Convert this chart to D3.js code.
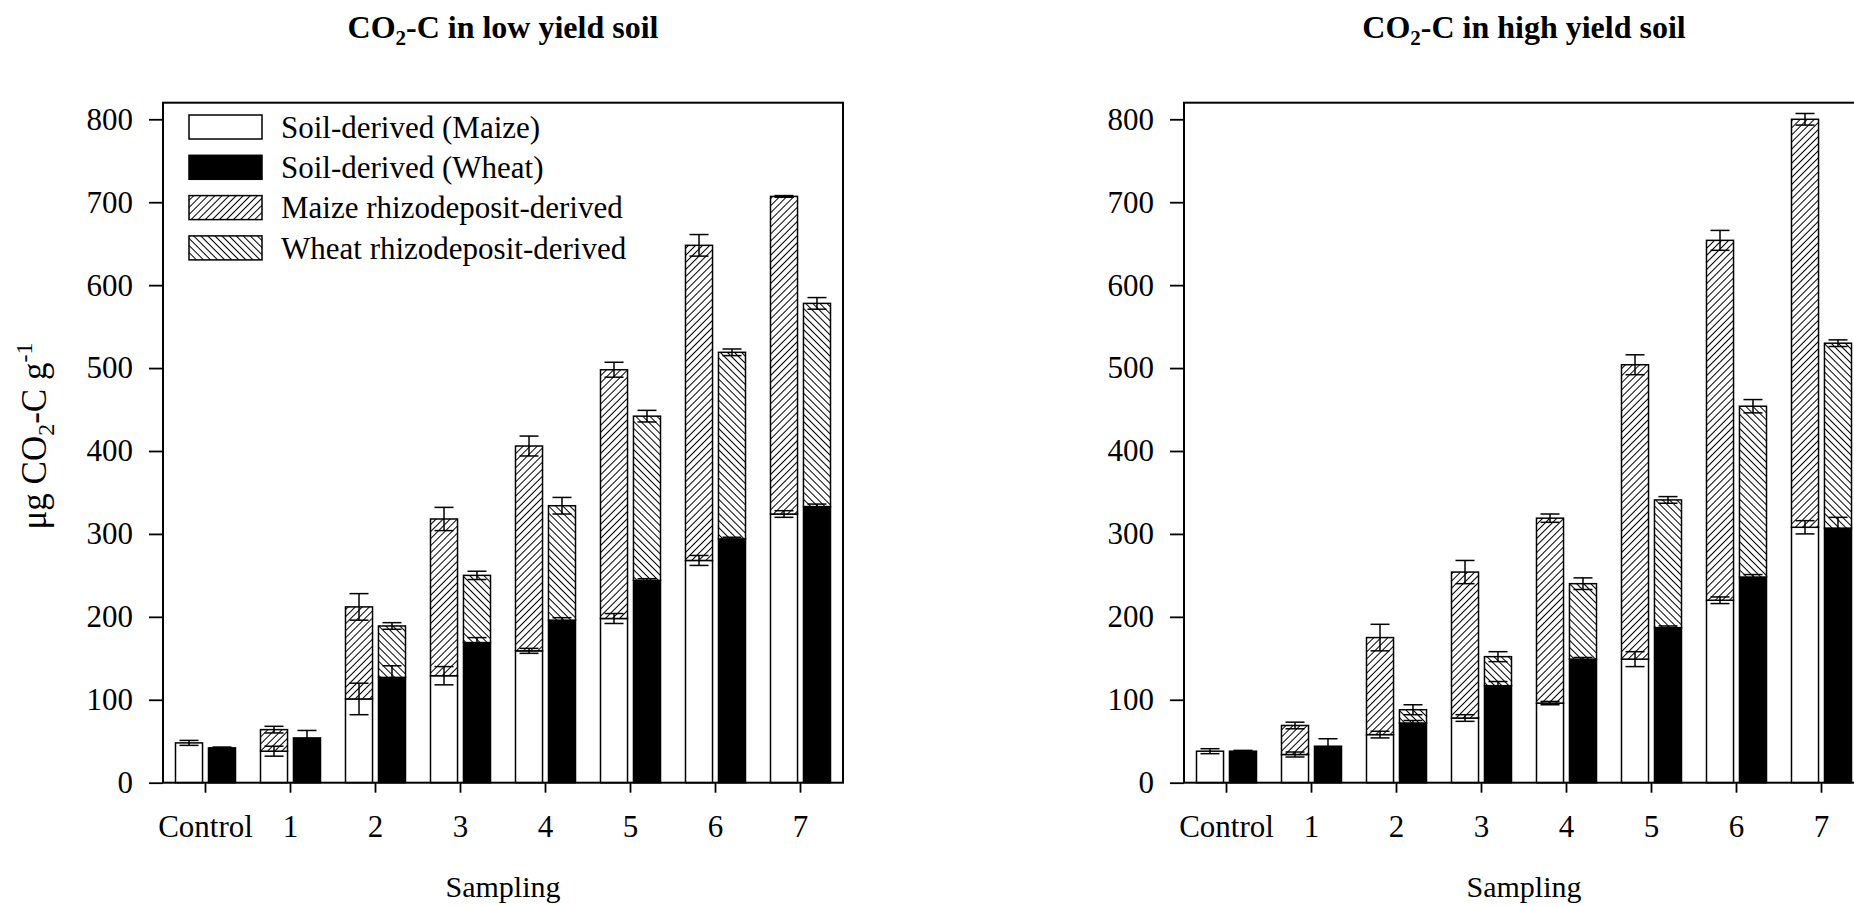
<!DOCTYPE html>
<html><head><meta charset="utf-8">
<script src="https://cdn.jsdelivr.net/npm/d3@7"></script>
<style>
html,body{margin:0;padding:0;background:#fff;overflow:hidden;}
svg{display:block;}
svg text{font-family:"Liberation Serif","Times New Roman",serif !important;fill:#000;}
</style></head><body>
<svg id="chart" width="1854" height="906"></svg>
<script>
// ---------- data ----------
const categories = ["Control","1","2","3","4","5","6","7"];
const yTicks = [0,100,200,300,400,500,600,700,800];
const seriesNames = ["Soil-derived (Maize)","Soil-derived (Wheat)","Maize rhizodeposit-derived","Wheat rhizodeposit-derived"];

// low yield soil
const lowMaizeSoil     = [48, 38, 101, 129, 159, 198, 268, 324];
const lowMaizeSoilErr  = [3, 6, 19, 11, 3, 6, 6, 4];
const lowMaizeRhizo    = [0, 26, 111, 189, 247, 300, 380, 383];
const lowMaizeRhizoErr = [0, 4, 16, 14, 12, 9, 13, 1];
const lowWheatSoil     = [42, 54, 127, 169, 196, 244, 294, 333];
const lowWheatSoilErr  = [1, 9, 14, 6, 3, 2, 2, 3];
const lowWheatRhizo    = [0, 0, 62, 81, 138, 198, 225, 245];
const lowWheatRhizoErr = [0, 0, 4, 5, 10, 7, 4, 7];

// high yield soil
const highMaizeSoil     = [38, 34, 58, 78, 96, 149, 220, 308];
const highMaizeSoilErr  = [3, 3, 4, 4, 2, 9, 4, 8];
const highMaizeRhizo    = [0, 35, 117, 176, 223, 355, 434, 492];
const highMaizeRhizoErr = [0, 4, 16, 14, 5, 12, 12, 7];
const highWheatSoil     = [38, 44, 72, 117, 149, 187, 248, 307];
const highWheatSoilErr  = [1, 9, 3, 5, 2, 2, 3, 13];
const highWheatRhizo    = [0, 0, 16, 35, 91, 154, 206, 223];
const highWheatRhizoErr = [0, 0, 6, 6, 7, 4, 8, 4];

// ---------- drawing ----------
const FONT = '"Liberation Serif","Times New Roman",serif';
const svg = d3.select("#chart");
const defs = svg.append("defs");
function hatch(id, angle){
  const p = defs.append("pattern").attr("id", id).attr("patternUnits","userSpaceOnUse")
    .attr("width", 5).attr("height", 5).attr("patternTransform", `rotate(${angle})`);
  p.append("rect").attr("width",5).attr("height",5).attr("fill","#fff");
  p.append("line").attr("x1",2.5).attr("x2",2.5).attr("y1",0).attr("y2",5)
    .attr("stroke","#000").attr("stroke-width",1);
}
hatch("hatchM", 45);
hatch("hatchW", -45);
const fills = ["#fff", "#000", "url(#hatchM)", "url(#hatchW)"];

const TOP = 102.7, W = 680, H = 680;
const FS = 31;

function drawPanel(o){
  const g = svg.append("g").attr("transform", `translate(${o.left},${TOP})`);
  const x = d3.scaleBand().domain(categories).range([0, W]).paddingInner(0.294).paddingOuter(0.147);
  const xs = d3.scaleBand().domain(["maize","wheat"]).range([0, x.bandwidth()]).paddingInner(0.18);
  const y = d3.scaleLinear().domain([0, 820]).range([H, 0]);
  const stack = d3.stack().keys(["soil","rhizo"]);

  const crops = [
    {key:"maize", soil:o.maizeSoil, soilErr:o.maizeSoilErr, rhizo:o.maizeRhizo, rhizoErr:o.maizeRhizoErr, fills:[fills[0], fills[2]]},
    {key:"wheat", soil:o.wheatSoil, soilErr:o.wheatSoilErr, rhizo:o.wheatRhizo, rhizoErr:o.wheatRhizoErr, fills:[fills[1], fills[3]]}
  ];

  crops.forEach(c => {
    const rows = categories.map((cat, i) => ({cat, soil:c.soil[i], rhizo:c.rhizo[i], soilErr:c.soilErr[i], rhizoErr:c.rhizoErr[i]}));
    const layers = stack(rows);
    const bw = xs.bandwidth();
    layers.forEach((layer, li) => {
      g.append("g").selectAll("rect")
        .data(layer.filter(d => d[1] - d[0] > 0))
        .join("rect")
        .attr("x", d => x(d.data.cat) + xs(c.key))
        .attr("width", bw)
        .attr("y", d => y(d[1]))
        .attr("height", d => y(d[0]) - y(d[1]))
        .attr("fill", c.fills[li])
        .attr("stroke", "#000")
        .attr("stroke-width", 1.5);
    });
    layers.forEach((layer, li) => {
      const errKey = li === 0 ? "soilErr" : "rhizoErr";
      const eg = g.append("g").attr("stroke","#000").attr("stroke-width",1.5).attr("fill","none");
      layer.filter(d => d[1] - d[0] > 0).forEach(d => {
        const e = d.data[errKey];
        const cx = x(d.data.cat) + xs(c.key) + bw/2;
        const y1 = y(d[1] + e), y2 = y(d[1] - e);
        const hw = 9.5;
        eg.append("line").attr("x1",cx).attr("x2",cx).attr("y1",y1).attr("y2",y2);
        eg.append("line").attr("x1",cx-hw).attr("x2",cx+hw).attr("y1",y1).attr("y2",y1);
        eg.append("line").attr("x1",cx-hw).attr("x2",cx+hw).attr("y1",y2).attr("y2",y2);
      });
    });
  });

  // frame
  g.append("rect").attr("x",0).attr("y",0).attr("width",W).attr("height",H)
    .attr("fill","none").attr("stroke","#000").attr("stroke-width",2);

  // axes
  const ya = g.append("g").call(d3.axisLeft(y).tickValues(yTicks).tickSize(14).tickPadding(16).tickFormat(d3.format("d")));
  ya.attr("font-family", null).attr("font-size", null);
  ya.select(".domain").remove();
  ya.selectAll("line").attr("stroke-width",1.8);
  ya.selectAll("text").style("font-family",FONT).style("font-size",FS+"px");

  const xa = g.append("g").attr("transform",`translate(0,${H})`)
    .call(d3.axisBottom(x).tickSize(10));
  xa.attr("font-family", null).attr("font-size", null);
  xa.select(".domain").remove();
  xa.selectAll("line").attr("stroke-width",1.8);
  xa.selectAll("text").style("font-family",FONT).style("font-size",FS+"px")
    .attr("dy",null).attr("y",54.6);

  // title
  const t = g.append("text").attr("x", W/2).attr("y", 38 - TOP).attr("text-anchor","middle")
    .style("font-size","32px").style("font-weight","bold");
  t.append("tspan").text("CO");
  t.append("tspan").style("font-size","21px").attr("dy",7).text("2");
  t.append("tspan").attr("dy",-7).text("-C in " + o.titleWord + " yield soil");

  // x title
  g.append("text").attr("x", W/2).attr("y", 896.7 - TOP).attr("text-anchor","middle")
    .style("font-size","30px").text("Sampling");

  if (o.showYTitle){
    const yt = svg.append("text").attr("transform","translate(46,436) rotate(-90)")
      .attr("text-anchor","middle").style("font-size","35px");
    yt.append("tspan").text("\u03BCg CO");
    yt.append("tspan").style("font-size","24px").attr("dy",8).text("2");
    yt.append("tspan").attr("dy",-8).text("-C g");
    yt.append("tspan").style("font-size","24px").attr("dy",-14).text("-1");
  }

  if (o.showLegend){
    const lg = g.append("g");
    seriesNames.forEach((name, i) => {
      const rowY = 12.3 + i * 40.3;
      lg.append("rect").attr("x",26).attr("y",rowY).attr("width",73).attr("height",24)
        .attr("fill",fills[i]).attr("stroke","#000").attr("stroke-width",1.5);
      lg.append("text").attr("x",118).attr("y",rowY + 12).attr("dy","0.35em")
        .style("font-size",FS+"px").text(name);
    });
  }
}

drawPanel({left:163, titleWord:"low", showLegend:true, showYTitle:true,
  maizeSoil:lowMaizeSoil, maizeSoilErr:lowMaizeSoilErr, maizeRhizo:lowMaizeRhizo, maizeRhizoErr:lowMaizeRhizoErr,
  wheatSoil:lowWheatSoil, wheatSoilErr:lowWheatSoilErr, wheatRhizo:lowWheatRhizo, wheatRhizoErr:lowWheatRhizoErr});
drawPanel({left:1184, titleWord:"high", showLegend:false, showYTitle:false,
  maizeSoil:highMaizeSoil, maizeSoilErr:highMaizeSoilErr, maizeRhizo:highMaizeRhizo, maizeRhizoErr:highMaizeRhizoErr,
  wheatSoil:highWheatSoil, wheatSoilErr:highWheatSoilErr, wheatRhizo:highWheatRhizo, wheatRhizoErr:highWheatRhizoErr});
</script>
</body></html>
